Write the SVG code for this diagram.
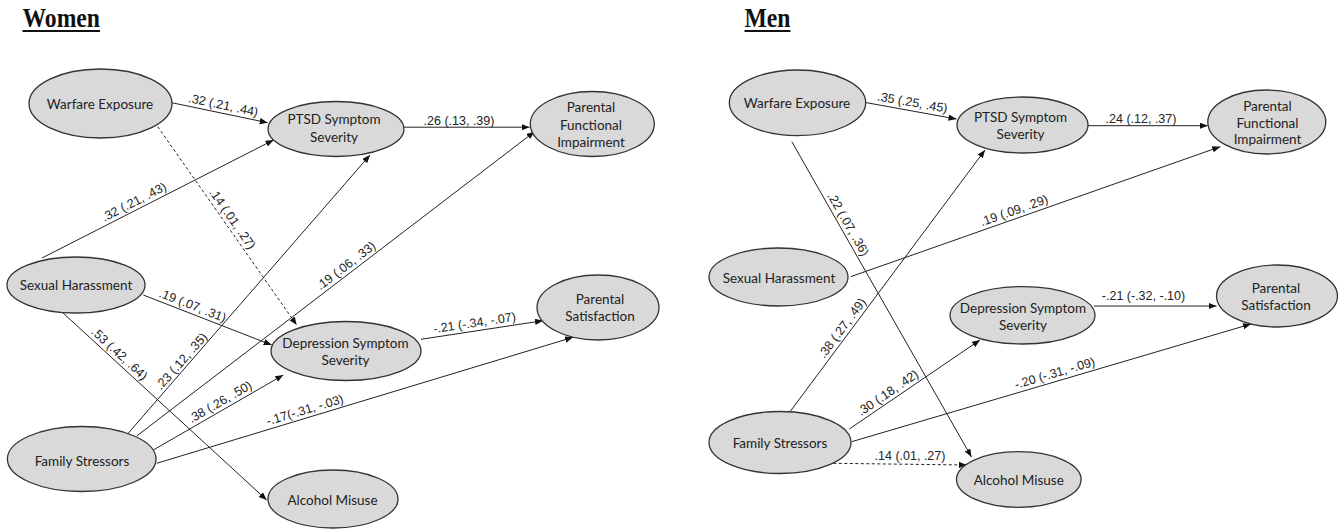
<svg xmlns="http://www.w3.org/2000/svg" width="1342" height="529" viewBox="0 0 1342 529">
<style>
.node ellipse{fill:#d9d9d9;stroke:#333;stroke-width:1.3}
.node text{font-family:Lato,"Open Sans",sans-serif;font-size:13.5px;fill:#222;text-anchor:middle}
.title{font-family:"Liberation Serif","Times New Roman",serif;font-weight:bold;font-size:26.5px;fill:#111}
.edge{stroke:#222;stroke-width:1;fill:none}
.dash{stroke-dasharray:3,2.5}
.lbl{font-family:"Liberation Sans",Arial,sans-serif;font-size:12.5px;fill:#222;text-anchor:middle}
</style>
<defs>
<marker id="arr" markerUnits="userSpaceOnUse" markerWidth="9" markerHeight="7" refX="8" refY="3.2" orient="auto">
<path d="M0,0 L8,3.2 L0,6.4 z" fill="#111"/>
</marker>
</defs>
<rect width="1342" height="529" fill="#fff"/>

<g id="titles">
<text class="title" x="22.5" y="26.5" textLength="77.5" lengthAdjust="spacingAndGlyphs">Women</text>
<line x1="22.5" y1="31" x2="100" y2="31" stroke="#111" stroke-width="1.8"/>
<text class="title" x="744.5" y="26.5" textLength="46" lengthAdjust="spacingAndGlyphs">Men</text>
<line x1="744.5" y1="31" x2="790.5" y2="31" stroke="#111" stroke-width="1.8"/>
</g>

<g id="connectors">
<line class="edge" x1="171.7" y1="102.7" x2="267.7" y2="122.7" marker-end="url(#arr)"/>
<line class="edge" x1="404" y1="127.2" x2="529.5" y2="127.2" marker-end="url(#arr)"/>
<line class="edge dash" x1="157.8" y1="126.7" x2="296.7" y2="325" marker-end="url(#arr)"/>
<line class="edge" x1="42" y1="258" x2="273.6" y2="140" marker-end="url(#arr)"/>
<line class="edge" x1="143.3" y1="295" x2="271.7" y2="345" marker-end="url(#arr)"/>
<line class="edge" x1="61.7" y1="311.7" x2="266.7" y2="500" marker-end="url(#arr)"/>
<line class="edge" x1="126.7" y1="435" x2="370" y2="155" marker-end="url(#arr)"/>
<line class="edge" x1="136.7" y1="436" x2="534.5" y2="131.7" marker-end="url(#arr)"/>
<line class="edge" x1="153.3" y1="450" x2="283.3" y2="375" marker-end="url(#arr)"/>
<line class="edge" x1="156.7" y1="463.3" x2="573" y2="337.3" marker-end="url(#arr)"/>
<line class="edge" x1="421" y1="339.3" x2="543" y2="320.7" marker-end="url(#arr)"/>

<line class="edge" x1="865.5" y1="102.5" x2="956.5" y2="119" marker-end="url(#arr)"/>
<line class="edge" x1="1088" y1="125.7" x2="1207.7" y2="125.7" marker-end="url(#arr)"/>
<line class="edge" x1="791.8" y1="141.7" x2="971.5" y2="457" marker-end="url(#arr)"/>
<line class="edge" x1="790" y1="411.7" x2="985" y2="150" marker-end="url(#arr)"/>
<line class="edge" x1="850.7" y1="276.7" x2="1220.3" y2="146.7" marker-end="url(#arr)"/>
<line class="edge" x1="849.3" y1="429" x2="980" y2="340" marker-end="url(#arr)"/>
<line class="edge" x1="851.7" y1="441.7" x2="1251" y2="324" marker-end="url(#arr)"/>
<line class="edge" x1="1094" y1="306" x2="1216.5" y2="306" marker-end="url(#arr)"/>
<line class="edge dash" x1="833.3" y1="463.3" x2="966.7" y2="465" marker-end="url(#arr)"/>

<text class="lbl" transform="translate(221.6,113.1) rotate(11.8)" y="-4">.32 (.21, .44)</text>
<text class="lbl" transform="translate(459,127.2)" y="-2.5">.26 (.13, .39)</text>
<text class="lbl" transform="translate(225.7,223.5) rotate(55)" y="-4">.14 (.01, .27)</text>
<text class="lbl" transform="translate(137.7,209.2) rotate(-27)" y="-4">.32 (.21, .43)</text>
<text class="lbl" transform="translate(189.7,313.1) rotate(21.3)" y="-4">.19 (.07, .31)</text>
<text class="lbl" transform="translate(114,359.8) rotate(42.6)" y="-4">.53 (.42, .64)</text>
<text class="lbl" transform="translate(187.5,366.6) rotate(-48.4)" y="-4">.23 (.12, .35)</text>
<text class="lbl" transform="translate(350.9,272.2) rotate(-37.4)" y="-4">.19 (.06, .33)</text>
<text class="lbl" transform="translate(224.2,409) rotate(-30)" y="-4">.38 (.26, .50)</text>
<text class="lbl" transform="translate(307.2,417.8) rotate(-16.8)" y="-4">-.17(-.31, -.03)</text>
<text class="lbl" transform="translate(475.7,330.9) rotate(-8.7)" y="-4">-.21 (-.34, -.07)</text>

<text class="lbl" transform="translate(911,110.5) rotate(10.2)" y="-4">.35 (.25, .45)</text>
<text class="lbl" transform="translate(1141,125.7)" y="-2.5">.24 (.12, .37)</text>
<text class="lbl" transform="translate(841.1,228.2) rotate(60.3)" y="-4">.22 (.07, .36)</text>
<text class="lbl" transform="translate(848.7,332.9) rotate(-53.3)" y="-4">.38 (.27, .49)</text>
<text class="lbl" transform="translate(1016.8,218.2) rotate(-19.4)" y="-4">.19 (.09, .29)</text>
<text class="lbl" transform="translate(892.5,399.6) rotate(-34.3)" y="-4">.30 (.18, .42)</text>
<text class="lbl" transform="translate(1057,380.9) rotate(-16.5)" y="-4">-.20 (-.31, -.09)</text>
<text class="lbl" transform="translate(1143.5,306)" y="-6">-.21 (-.32, -.10)</text>
<text class="lbl" transform="translate(910,464)" y="-4">.14 (.01, .27)</text>
</g>

<g id="w-warfare" class="node"><ellipse cx="100.5" cy="103.5" rx="71.5" ry="34.5"/><text x="100" y="109">Warfare Exposure</text></g>
<g id="w-ptsd" class="node"><ellipse cx="336" cy="129" rx="68" ry="27.5"/><text x="334" y="124">PTSD Symptom</text><text x="334" y="141.5">Severity</text></g>
<g id="w-pfi" class="node"><ellipse cx="592.3" cy="124" rx="62" ry="32.5"/><text x="591" y="112">Parental</text><text x="591" y="129.5">Functional</text><text x="591" y="147">Impairment</text></g>
<g id="w-harass" class="node"><ellipse cx="76" cy="285" rx="69" ry="28"/><text x="76" y="290">Sexual Harassment</text></g>
<g id="w-dep" class="node"><ellipse cx="346" cy="351" rx="75" ry="29.5"/><text x="345.5" y="347.5">Depression Symptom</text><text x="345.5" y="365">Severity</text></g>
<g id="w-sat" class="node"><ellipse cx="598" cy="307.5" rx="61" ry="32.5"/><text x="600" y="304">Parental</text><text x="600" y="321">Satisfaction</text></g>
<g id="w-family" class="node"><ellipse cx="81.7" cy="459" rx="74.3" ry="32.5"/><text x="82" y="466">Family Stressors</text></g>
<g id="w-alcohol" class="node"><ellipse cx="333" cy="499" rx="65" ry="29"/><text x="332.5" y="505">Alcohol Misuse</text></g>

<g id="m-warfare" class="node"><ellipse cx="797.5" cy="102.8" rx="68.2" ry="32.8"/><text x="797" y="107.7">Warfare Exposure</text></g>
<g id="m-ptsd" class="node"><ellipse cx="1022.5" cy="125" rx="65.5" ry="28"/><text x="1020.5" y="121.5">PTSD Symptom</text><text x="1020.5" y="139">Severity</text></g>
<g id="m-pfi" class="node"><ellipse cx="1266.8" cy="122" rx="59" ry="32"/><text x="1267.5" y="111">Parental</text><text x="1267.5" y="127.5">Functional</text><text x="1267.5" y="143.5">Impairment</text></g>
<g id="m-harass" class="node"><ellipse cx="778.5" cy="277" rx="69.5" ry="29"/><text x="779" y="282.5">Sexual Harassment</text></g>
<g id="m-dep" class="node"><ellipse cx="1022.5" cy="315.3" rx="72.5" ry="28.7"/><text x="1023" y="313">Depression Symptom</text><text x="1023" y="330">Severity</text></g>
<g id="m-sat" class="node"><ellipse cx="1277" cy="296" rx="60.5" ry="31"/><text x="1276" y="293">Parental</text><text x="1276" y="310">Satisfaction</text></g>
<g id="m-family" class="node"><ellipse cx="780" cy="442.5" rx="71" ry="31"/><text x="780" y="448">Family Stressors</text></g>
<g id="m-alcohol" class="node"><ellipse cx="1018.8" cy="479.5" rx="62.3" ry="27.8"/><text x="1018.8" y="485">Alcohol Misuse</text></g>
</svg>
